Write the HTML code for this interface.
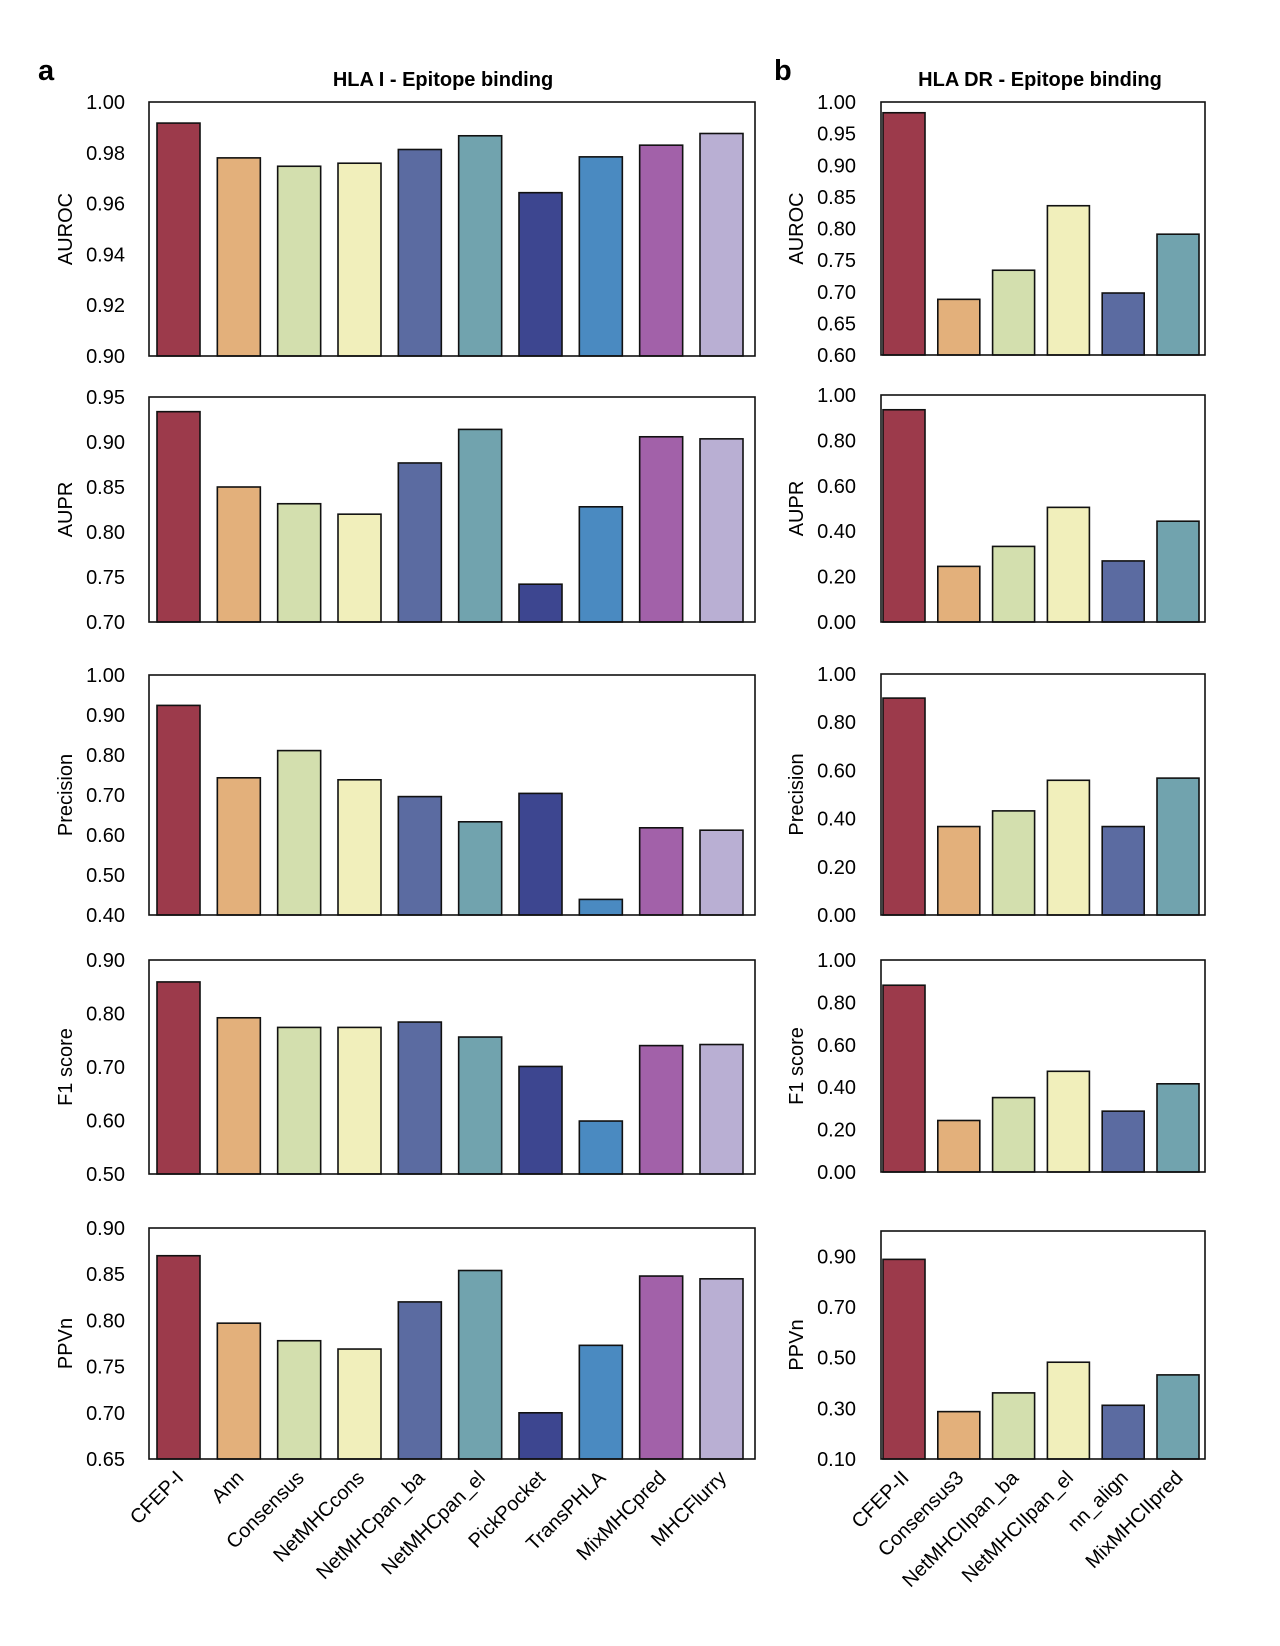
<!DOCTYPE html>
<html><head><meta charset="utf-8"><style>
body{margin:0;background:#fff;}
svg{display:block;font-family:"Liberation Sans",Arial,sans-serif;}
</style></head><body>
<svg id="fig" width="1280" height="1646" viewBox="0 0 1280 1646" xmlns="http://www.w3.org/2000/svg">
<text x="38" y="80" font-size="29" font-weight="bold">a</text>
<text x="774" y="80" font-size="29" font-weight="bold">b</text>
<text x="443" y="86" font-size="20" font-weight="bold" text-anchor="middle">HLA I - Epitope binding</text>
<text x="1040" y="86" font-size="20" font-weight="bold" text-anchor="middle">HLA DR - Epitope binding</text>
</svg>
<script>
const leftCategories=["CFEP-I","Ann","Consensus","NetMHCcons","NetMHCpan_ba","NetMHCpan_el","PickPocket","TransPHLA","MixMHCpred","MHCFlurry"];
const rightCategories=["CFEP-II","Consensus3","NetMHCIIpan_ba","NetMHCIIpan_el","nn_align","MixMHCIIpred"];
const metrics=["AUROC","AUPR","Precision","F1 score","PPVn"];
const leftAUROC=[0.9917,0.978,0.9747,0.9759,0.9813,0.9867,0.9643,0.9784,0.983,0.9876];
const leftAUPR=[0.9337,0.85,0.8314,0.8198,0.8767,0.914,0.742,0.828,0.9058,0.9035];
const leftPrecision=[0.924,0.743,0.811,0.738,0.696,0.633,0.704,0.439,0.618,0.612];
const leftF1=[0.859,0.792,0.774,0.774,0.784,0.756,0.701,0.599,0.74,0.742];
const leftPPVn=[0.870,0.797,0.778,0.769,0.82,0.854,0.70,0.773,0.848,0.845];
const rightAUROC=[0.983,0.688,0.734,0.836,0.698,0.791];
const rightAUPR=[0.935,0.245,0.333,0.505,0.269,0.444];
const rightPrecision=[0.90,0.367,0.432,0.559,0.367,0.568];
const rightF1=[0.881,0.243,0.351,0.475,0.287,0.416];
const rightPPVn=[0.888,0.287,0.361,0.482,0.312,0.432];
const leftTicks=[["0.90","0.92","0.94","0.96","0.98","1.00"],["0.70","0.75","0.80","0.85","0.90","0.95"],["0.40","0.50","0.60","0.70","0.80","0.90","1.00"],["0.50","0.60","0.70","0.80","0.90"],["0.65","0.70","0.75","0.80","0.85","0.90"]];
const rightTicks=[["0.60","0.65","0.70","0.75","0.80","0.85","0.90","0.95","1.00"],["0.00","0.20","0.40","0.60","0.80","1.00"],["0.00","0.20","0.40","0.60","0.80","1.00"],["0.00","0.20","0.40","0.60","0.80","1.00"],["0.10","0.30","0.50","0.70","0.90"]];
const leftDomains=[[0.90,1.00],[0.70,0.95],[0.40,1.00],[0.50,0.90],[0.65,0.90]];
const rightDomains=[[0.60,1.00],[0,1],[0,1],[0,1],[0.10,1.00]];
const colors=["#9c3a4b","#e3b07b","#d3dfae","#f1efbb","#5b6ba1","#71a3ae","#3d4690","#4a8ac1","#a261a9","#b9afd3"];

const NS="http://www.w3.org/2000/svg";
const svg=document.getElementById("fig");
function mk(tag,attrs,parent){const e=document.createElementNS(NS,tag);for(const k in attrs)e.setAttribute(k,attrs[k]);(parent||svg).appendChild(e);return e;}

const leftData=[leftAUROC,leftAUPR,leftPrecision,leftF1,leftPPVn];
const rightData=[rightAUROC,rightAUPR,rightPrecision,rightF1,rightPPVn];
const leftRows=[[102,356],[397,622],[675,915],[960,1174],[1228,1459]];
const rightRows=[[102,355],[395,622],[674,915],[960,1172],[1231,1459]];

function panel(side,r,vals,cats,ticks,dom,box,x0,x1,barW,pad,tickX,titleX){
  const [y0,y1]=box;
  const g=mk("g",{});
  
  
  const ys=v=>y1-(v-dom[0])/(dom[1]-dom[0])*(y1-y0);
  const n=vals.length;
  const pitch=(x1-x0-pad-barW-pad-4)/(n-1);
  vals.forEach((v,i)=>{
    const bx=x0+pad+i*pitch;
    const rc=mk("rect",{x:bx,y:ys(v),width:barW,height:y1-ys(v),fill:colors[i],stroke:"#111","stroke-width":1.6},g);
    
    
    if(r===4){
      const cx=bx+barW/2+6, cy=y1+20;
      const t=mk("text",{x:cx,y:cy,"font-size":20,"text-anchor":"end",transform:`rotate(-45 ${cx} ${cy})`},g);
      t.textContent=cats[i];
      
      
    }
  });
  const b=mk("rect",{x:x0,y:y0,width:x1-x0,height:y1-y0,fill:"none",stroke:"#111","stroke-width":1.6},g);
  
  
  ticks.forEach(tk=>{
    const t=mk("text",{x:tickX,y:ys(parseFloat(tk))+7,"font-size":20,"text-anchor":"end"},g);
    t.textContent=tk;
    
    
  });
  const cy=(y0+y1)/2;
  const yt=mk("text",{x:titleX,y:cy,"font-size":20,"text-anchor":"middle",transform:`rotate(-90 ${titleX} ${cy})`},g);
  yt.textContent=metrics[r];
  
  
}
for(let r=0;r<5;r++){
  panel("left",r,leftData[r],leftCategories,leftTicks[r],leftDomains[r],leftRows[r],149,755,43,8,125,72);
  panel("right",r,rightData[r],rightCategories,rightTicks[r],rightDomains[r],rightRows[r],881,1205,42,2,856,803);
}
</script>
</body></html>
